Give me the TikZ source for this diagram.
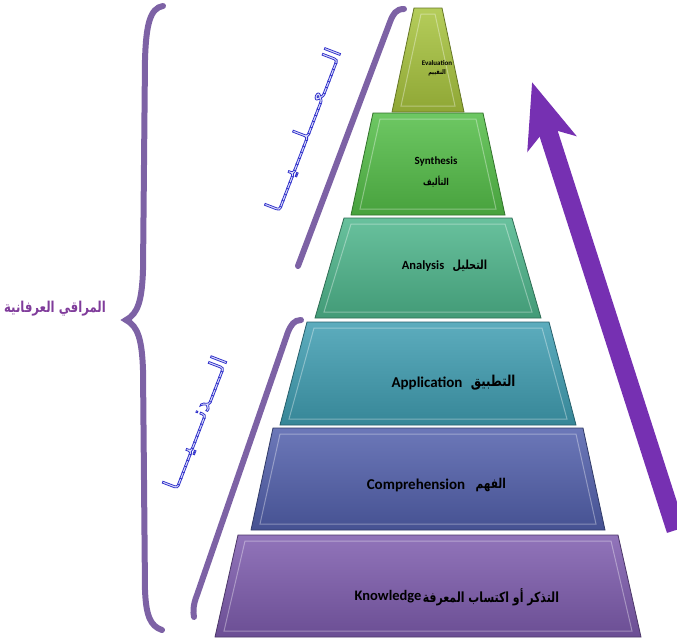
\documentclass[tikz,border=0pt]{standalone}
\usepackage{fontspec}
\setmainfont{Carlito}
\newfontfamily\arabicfont[Script=Arabic]{DejaVu Sans}
\TeXXeTstate=1
\usetikzlibrary{arrows.meta,positioning}

\definecolor{evalcol}{RGB}{168,196,62}
\definecolor{syncol}{RGB}{84,190,72}
\definecolor{anacol}{RGB}{78,182,140}
\definecolor{appcol}{RGB}{64,158,178}
\definecolor{compcol}{RGB}{82,96,172}
\definecolor{knowcol}{RGB}{126,92,174}
\definecolor{bracepurple}{RGB}{125,98,165}
\definecolor{arrowpurple}{RGB}{118,48,178}
\definecolor{labelpurple}{RGB}{128,60,155}
\definecolor{wordfill}{RGB}{225,228,250}

% hollow letters: light fill, blue outline
\newcommand{\hollow}[1]{\special{pdf:literal direct 0.2 0.2 0.8 RG 2 Tr 0.8 w}#1\special{pdf:literal direct 0 Tr}}

% one step of the pyramid: ytop, ybottom, half width top, half width bottom, colour
\newcommand{\pyrlayer}[5]{%
  \path[layer=#5] (428-#3,#1) -- (428+#3,#1) -- (428+#4,#2) -- (428-#4,#2) -- cycle;
  \draw[bevel] (428-#3+7,#1+6) -- (428+#3-7,#1+6) -- (428+#4-9,#2-6) -- (428-#4+9,#2-6) -- cycle;
}

\begin{document}
\begin{tikzpicture}[
    x=1pt, y=-1pt,
    layer/.style={draw=#1!60!black, line width=0.8pt, top color=#1!85!white, bottom color=#1!85!black},
    bevel/.style={white, opacity=0.35, line width=1pt},
    en/.style={inner sep=0pt, font=\bfseries\fontsize{#1}{#1}\selectfont},
    ar/.style={inner sep=0pt, xscale=0.78, font=\arabicfont\bfseries\fontsize{#1}{#1}\selectfont},
    bracket/.style={draw=bracepurple, line width=6pt, line cap=round},
    word/.style={inner sep=0pt, text=wordfill, rotate=69, font=\arabicfont\fontsize{22}{22}\selectfont},
    bigarrow/.style={draw=arrowpurple, line width=19pt, -{Stealth[length=64pt, width=50pt, inset=16pt]}}
]
    \useasboundingbox (0,0) rectangle (677,640);

    % Pyramid
    \pyrlayer{8}{112}{14}{36}{evalcol}
    \pyrlayer{113}{215}{55}{77}{syncol}
    \pyrlayer{218}{318}{84}{113}{anacol}
    \pyrlayer{322}{425}{121}{148}{appcol}
    \pyrlayer{428}{530}{155}{177}{compcol}
    \pyrlayer{535}{637}{190}{213}{knowcol}

    % Level names
    \node[en=7] (evaltxt) at (437,63) {Evaluation};
    \node[ar=6.5, below=4pt of evaltxt] (evalar) {\beginR التقييم\endR};

    \node[en=11] (syntxt) at (436,162) {Synthesis};
    \node[ar=9.5, below=9pt of syntxt] (synar) {\beginR التأليف\endR};

    \node[en=12.5] (anatxt) at (423,266) {Analysis};
    \node[ar=12.5, right=8pt of anatxt] (anaar) {\beginR التحليل\endR};

    \node[en=15] (apptxt) at (427,383) {Application};
    \node[ar=15, right=8pt of apptxt] (appar) {\beginR التطبيق\endR};

    \node[en=15] (comptxt) at (416,485) {Comprehension};
    \node[ar=13.5, right=10pt of comptxt] (compar) {\beginR الفهم\endR};

    \node[en=14.5] (knowtxt) at (388,597) {Knowledge};
    \node[ar=14, right=1pt of knowtxt] (knowar) {\beginR التذكر أو اكتساب المعرفة\endR};

    % Braces
    \draw[bracket] (163,6) .. controls (150,8) and (146,25) .. (145,60) -- (143,270)
        .. controls (142,300) and (138,314) .. (126,320)
        .. controls (138,326) and (142,340) .. (143,370) -- (145,590)
        .. controls (146,615) and (150,626) .. (162,630);
    \draw[bracket] (404,9) .. controls (396,9) and (393,14) .. (390,22) -- (298,266);
    \draw[bracket] (301,320) .. controls (294,320) and (291,325) .. (288,332) -- (197,595)
        .. controls (193,605) and (193,612) .. (194,617);

    \node[word] (upperword) at (304,130) {\hollow{\beginR الـــــعـــــلـــــيـــــا\endR}};
    \node[word] (lowerword) at (196,423) {\hollow{\beginR الـــــدنـــــيـــــا\endR}};

    \node[ar=15, text=labelpurple] (mainlabel) at (55,309) {\beginR المراقي العرفانية\endR};

    % Arrow
    \coordinate (arrtail) at (676,530);
    \coordinate (arrtip) at (532,82);
    \draw[bigarrow] (arrtail) -- (arrtip);
\end{tikzpicture}
\end{document}
